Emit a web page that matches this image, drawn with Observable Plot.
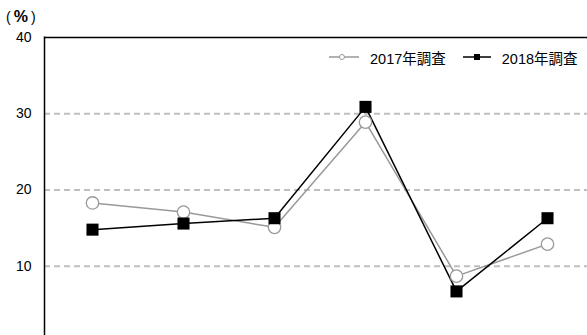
<!DOCTYPE html>
<html><head><meta charset="utf-8">
<script src="https://cdn.jsdelivr.net/npm/d3@7"></script>
<script src="https://cdn.jsdelivr.net/npm/@observablehq/plot@0.6"></script>
<style>
body{margin:0;background:#fff;}
#wrap{position:relative;width:587px;height:335px;overflow:hidden;font-family:"Liberation Sans","Noto Sans CJK JP",sans-serif;}
#chart{position:absolute;left:0;top:0;width:600px;}
#chart svg{max-width:none !important;}
#unit{position:absolute;left:6px;top:8px;font-size:14px;font-family:"Liberation Sans","Noto Sans CJK JP",sans-serif;color:#000;white-space:nowrap;}
#unit b{font-size:16px;margin:0 3px 0 3px;}
#legend{position:absolute;left:329px;top:48px;height:18px;font-size:14.5px;display:flex;align-items:center;font-family:"Liberation Sans","Noto Sans CJK JP",sans-serif;color:#000;}
#legend .it{display:flex;align-items:center;}
#legend svg{margin-right:11px;}
</style></head>
<body><div id="wrap"><div id="chart"></div><div id="unit">(<b>%</b>)</div><div id="legend"></div></div>
<script>
const categories = ["A","B","C","D","E","F"];
const series = ["2017年調査","2018年調査"];
const values2017 = [18.3, 17.1, 15.1, 28.9, 8.7, 12.9];
const values2018 = [14.8, 15.6, 16.3, 30.9, 6.7, 16.3];
const yTicks = [10, 20, 30, 40];

const data = [];
categories.forEach((c,i)=>{
  data.push({cat:c, series:series[0], value:values2017[i]});
  data.push({cat:c, series:series[1], value:values2018[i]});
});
const d17 = data.filter(d=>d.series===series[0]);
const d18 = data.filter(d=>d.series===series[1]);

const chart = Plot.plot({
  width: 600, height: 380,
  marginLeft: 44, marginRight: 6, marginTop: 37, marginBottom: 38,
  x: {type:"point", domain: categories, padding: 0.5, axis: null},
  y: {domain:[0,40], ticks: yTicks, tickSize: 0, tickPadding: 13, label: null, tickFormat: d=>String(d)},
  style: {fontSize:"14px", fontFamily:"Liberation Sans, sans-serif", color:"#000", background:"#fff", maxWidth:"none"},
  marks: [
    Plot.ruleY(yTicks.filter(t=>t<40), {stroke:"#bfbfbf", strokeWidth:2, strokeDasharray:"6,4"}),
    Plot.ruleY([40], {stroke:"#000", strokeWidth:1.5}),
    Plot.line(d17, {x:"cat", y:"value", stroke:"#999", strokeWidth:1.5}),
    Plot.line(d18, {x:"cat", y:"value", stroke:"#000", strokeWidth:1.5}),
    Plot.dot(d17, {x:"cat", y:"value", r:6.2, fill:"#fff", stroke:"#999", strokeWidth:1.3, symbol:"circle"}),
    Plot.dot(d18, {x:"cat", y:"value", r:6.8, fill:"#000", stroke:"none", symbol:"square"})
  ]
});
document.getElementById("chart").appendChild(chart);
// left axis line
d3.select(chart).append("line").attr("x1",44.5).attr("x2",44.5).attr("y1",36.5).attr("y2",380).attr("stroke","#000").attr("stroke-width",1.5);

const leg = document.getElementById("legend");
leg.innerHTML = `
<div class="it" style="margin-right:6px"><svg width="30" height="12"><line x1="0" x2="30" y1="6" y2="6" stroke="#999" stroke-width="1.5"/><circle cx="13" cy="6" r="2.5" fill="#fff" stroke="#999"/></svg><span>${series[0]}</span></div>
<div class="it" style="margin-left:11px"><svg width="28" height="12"><line x1="0" x2="28" y1="6" y2="6" stroke="#000" stroke-width="1.5"/><rect x="11" y="3" width="6" height="6" fill="#000"/></svg><span>${series[1]}</span></div>`;
</script>
</body></html>
